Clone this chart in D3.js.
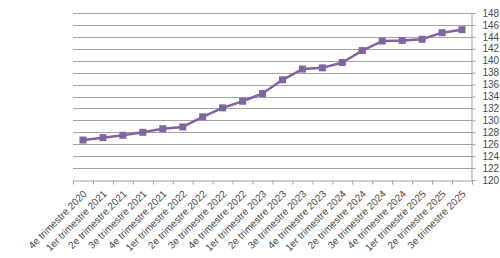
<!DOCTYPE html>
<html>
<head>
<meta charset="utf-8">
<script src="https://cdn.jsdelivr.net/npm/d3@7"></script>
<style>
  body { margin: 0; background: #fff; }
  text { font-family: "Liberation Sans", Arial, sans-serif; fill: #4a4a4a; }
</style>
</head>
<body>
<script>
// Data
var quarters = [
  "4e trimestre 2020", "1er trimestre 2021", "2e trimestre 2021", "3e trimestre 2021",
  "4e trimestre 2021", "1er trimestre 2022", "2e trimestre 2022", "3e trimestre 2022",
  "4e trimestre 2022", "1er trimestre 2023", "2e trimestre 2023", "3e trimestre 2023",
  "4e trimestre 2023", "1er trimestre 2024", "2e trimestre 2024", "3e trimestre 2024",
  "4e trimestre 2024", "1er trimestre 2025", "2e trimestre 2025", "3e trimestre 2025"
];
var values = [
  126.7, 127.1, 127.5, 128.0, 128.6, 128.9, 130.6, 132.1, 133.2, 134.5,
  136.8, 138.6, 138.8, 139.7, 141.7, 143.3, 143.4, 143.6, 144.7, 145.2
];
var yTicks = [120, 122, 124, 126, 128, 130, 132, 134, 136, 138, 140, 142, 144, 146, 148];

var svgWidth = 500;
var svgHeight = 258;
var margin = { top: 13, right: 28, bottom: 78, left: 73 };
var width = svgWidth - margin.left - margin.right;
var height = svgHeight - margin.top - margin.bottom;

var svg = d3.select("body")
  .append("svg")
  .attr("width", svgWidth)
  .attr("height", svgHeight);

var chartGroup = svg.append("g")
  .attr("transform", `translate(${margin.left}, ${margin.top})`);

// scales
var x = d3.scaleBand()
  .domain(quarters)
  .range([0, width])
  .padding(0);

var xEdges = d3.scaleLinear()
  .domain([0, quarters.length])
  .range([0, width]);

var y = d3.scaleLinear()
  .domain([120, 148])
  .range([height, 0]);

// horizontal gridlines
chartGroup.append("g")
  .selectAll("line")
  .data(yTicks.slice(1))
  .enter().append("line")
    .attr("x1", 0)
    .attr("x2", width)
    .attr("y1", d => Math.round(y(d)) + 0.5)
    .attr("y2", d => Math.round(y(d)) + 0.5)
    .attr("stroke", "#a3a3a3")
    .attr("stroke-width", 1);

// bottom axis: tick marks between categories
var bottomAxis = d3.axisBottom(xEdges)
  .tickValues(d3.range(0, quarters.length + 1))
  .tickFormat("")
  .tickSize(4)
  .tickSizeOuter(0);

var xAxis = chartGroup.append("g")
  .attr("transform", `translate(0, ${Math.round(height) + 0.5})`)
  .call(bottomAxis);
xAxis.select(".domain").attr("stroke", "#a3a3a3");
xAxis.selectAll(".tick line").attr("stroke", "#a3a3a3");

// category labels, rotated
chartGroup.append("g")
  .selectAll("text")
  .data(quarters)
  .enter().append("text")
    .attr("transform", d => `translate(${x(d) + x.bandwidth() / 2 + 2}, ${height + 12}) rotate(-45)`)
    .attr("text-anchor", "end")
    .attr("dy", "0.35em")
    .style("font-size", "10px")
    .text(d => d);

// right axis
var rightAxis = d3.axisRight(y)
  .tickValues(yTicks)
  .tickSize(4)
  .tickSizeOuter(0)
  .tickPadding(7);

var yAxis = chartGroup.append("g")
  .attr("transform", `translate(${Math.round(width) - 0.5}, 0)`)
  .call(rightAxis);
yAxis.select(".domain").attr("stroke", "#a3a3a3");
yAxis.selectAll(".tick line").attr("stroke", "#a3a3a3");
yAxis.selectAll(".tick text")
  .style("font-size", "10px")
  .attr("fill", "#4a4a4a");

// line
var line = d3.line()
  .x((d, i) => x(quarters[i]) + x.bandwidth() / 2)
  .y(d => y(d));

chartGroup.append("path")
  .datum(values)
  .attr("fill", "none")
  .attr("stroke", "#8064a2")
  .attr("stroke-width", 2.5)
  .attr("stroke-linejoin", "round")
  .attr("d", line);

// square markers
chartGroup.append("g")
  .selectAll("rect")
  .data(values)
  .enter().append("rect")
    .attr("x", (d, i) => x(quarters[i]) + x.bandwidth() / 2 - 3.5)
    .attr("y", d => y(d) - 3.5)
    .attr("width", 7)
    .attr("height", 7)
    .attr("fill", "#8064a2");
</script>
</body>
</html>
